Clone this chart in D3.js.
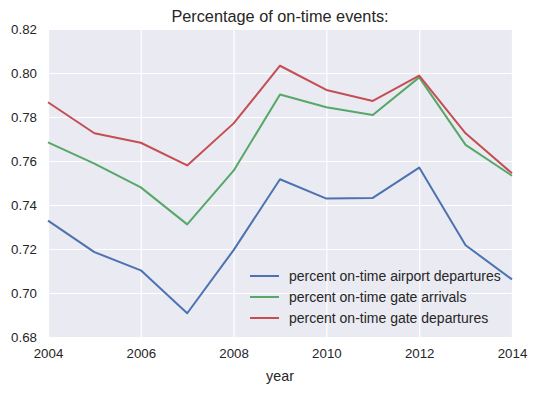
<!DOCTYPE html>
<html><head><meta charset="utf-8">
<script src="https://cdn.jsdelivr.net/npm/d3@7"></script>
<style>body{margin:0;background:#fff;} text{font-family:"Liberation Sans",Arial,sans-serif;fill:#262626;}</style>
</head><body>
<svg id="c" width="537" height="393"></svg>
<script>
const years = [2004,2005,2006,2007,2008,2009,2010,2011,2012,2013,2014];
const airportDepartures = [0.7329,0.7186,0.7103,0.6908,0.7195,0.7517,0.7429,0.7432,0.7570,0.7217,0.7062];
const gateArrivals = [0.7685,0.7588,0.7480,0.7312,0.7556,0.7902,0.7844,0.7809,0.7980,0.7673,0.7533];
const gateDepartures = [0.7867,0.7726,0.7683,0.7580,0.7771,0.8033,0.7923,0.7873,0.7988,0.7726,0.7544];
const seriesNames = ["percent on-time airport departures","percent on-time gate arrivals","percent on-time gate departures"];
const colors = ["#4C72B0","#55A868","#C44E52"];
const xTicks = [2004,2006,2008,2010,2012,2014];
const yTicks = [0.68,0.70,0.72,0.74,0.76,0.78,0.80,0.82];

const svg = d3.select("#c");
const L=48,R=512,T=29,B=337;
const x = d3.scaleLinear().domain([2004,2014]).range([L,R]);
const y = d3.scaleLinear().domain([0.68,0.82]).range([B,T]);

svg.append("rect").attr("x",L).attr("y",T).attr("width",R-L).attr("height",B-T).attr("fill","#EAEAF2");

const gx = svg.append("g").attr("transform",`translate(0,${B})`)
  .call(d3.axisBottom(x).tickValues(xTicks).tickFormat(d3.format("d")).tickSize(-(B-T)).tickPadding(12));
const gy = svg.append("g").attr("transform",`translate(${L},0)`)
  .call(d3.axisLeft(y).tickValues(yTicks).tickFormat(d3.format(".2f")).tickSize(-(R-L)).tickPadding(11));
[gx,gy].forEach(g=>{
  g.select(".domain").remove();
  g.selectAll(".tick line").attr("stroke","#fff").attr("stroke-width",1.2);
  g.selectAll(".tick text").attr("font-size",13.3).attr("fill","#262626");
});
gy.selectAll(".tick text").attr("dy","0.35em");

const line = d3.line().x((d,i)=>x(years[i])).y(d=>y(d));
[airportDepartures,gateArrivals,gateDepartures].forEach((s,i)=>{
  svg.append("path").datum(s).attr("d",line).attr("fill","none")
    .attr("stroke",colors[i]).attr("stroke-width",2).attr("stroke-linejoin","round");
});

svg.append("text").attr("x",(L+R)/2).attr("y",22).attr("text-anchor","middle").attr("font-size",16.3).text("Percentage of on-time events:");
svg.append("text").attr("x",(L+R)/2).attr("y",381).attr("text-anchor","middle").attr("font-size",14.3).text("year");

const lg = svg.append("g");
seriesNames.forEach((n,i)=>{
  const yy = 276 + i*21;
  lg.append("line").attr("x1",250).attr("x2",279).attr("y1",yy).attr("y2",yy).attr("stroke",colors[i]).attr("stroke-width",2);
  lg.append("text").attr("x",289).attr("y",yy).attr("dy","0.35em").attr("font-size",14).text(n);
});
</script>
</body></html>
